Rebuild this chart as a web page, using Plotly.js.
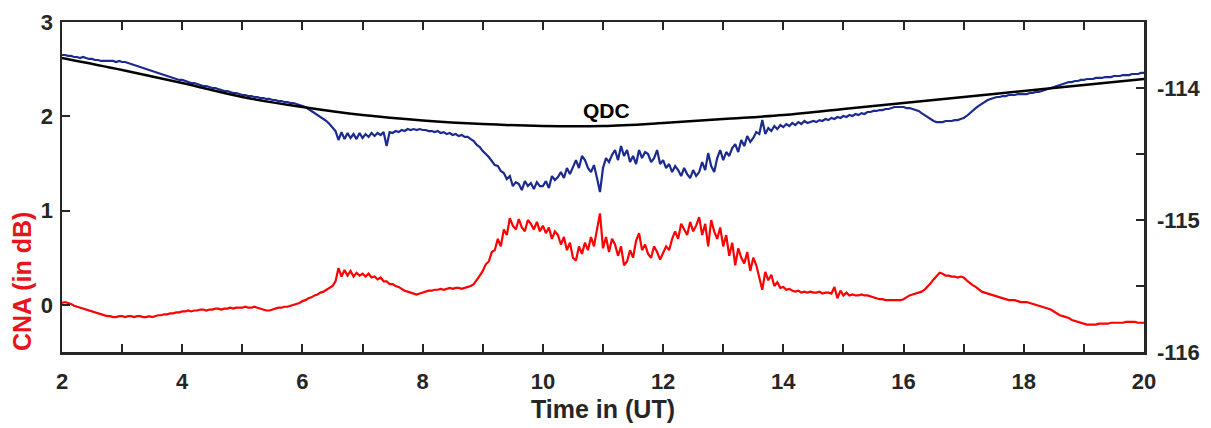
<!DOCTYPE html>
<html>
<head>
<meta charset="utf-8">
<script src="https://cdn.plot.ly/plotly-3.0.1.min.js"></script>
<style>html,body{margin:0;padding:0;background:#fff;}#chart{width:1211px;height:428px;}</style>
</head>
<body>
<div id="chart"></div>
<script>
// Sampling grid: 2.00 UT to 20.00 UT every 0.05 h (361 samples)
const tStart = 2, tStep = 0.05, nSamples = 361;
const timeUT = Array.from({length: nSamples}, (_, i) => +(tStart + i * tStep).toFixed(2));

// CNA (dB), left axis, one row per hour (20 samples each) + final sample at 20.00
const cnaDB = [
  0.02,0.03,0.02,0.01,-0.01,-0.02,-0.03,-0.04,-0.05,-0.06,-0.07,-0.08,-0.09,-0.10,-0.11,-0.12,-0.12,-0.13,-0.13,-0.12,
  -0.12,-0.13,-0.12,-0.12,-0.13,-0.12,-0.12,-0.13,-0.13,-0.12,-0.13,-0.12,-0.11,-0.11,-0.10,-0.10,-0.09,-0.09,-0.08,-0.08,
  -0.07,-0.07,-0.06,-0.07,-0.06,-0.06,-0.05,-0.05,-0.06,-0.05,-0.05,-0.04,-0.04,-0.05,-0.04,-0.04,-0.03,-0.04,-0.03,-0.03,
  -0.03,-0.02,-0.03,-0.03,-0.02,-0.03,-0.04,-0.05,-0.06,-0.06,-0.05,-0.04,-0.03,-0.03,-0.02,-0.02,-0.01,0.00,0.01,0.02,
  0.04,0.05,0.07,0.08,0.10,0.11,0.13,0.14,0.16,0.18,0.20,0.25,0.39,0.30,0.37,0.31,0.36,0.30,0.34,0.31,
  0.33,0.30,0.33,0.29,0.30,0.27,0.29,0.25,0.25,0.22,0.22,0.20,0.19,0.17,0.15,0.14,0.13,0.12,0.11,0.12,
  0.13,0.14,0.15,0.15,0.16,0.16,0.17,0.16,0.17,0.18,0.17,0.18,0.18,0.17,0.18,0.19,0.20,0.22,0.26,0.31,
  0.36,0.43,0.46,0.56,0.58,0.70,0.62,0.80,0.74,0.92,0.84,0.80,0.91,0.82,0.78,0.90,0.86,0.80,0.88,0.78,
  0.84,0.76,0.82,0.70,0.78,0.74,0.64,0.72,0.58,0.66,0.50,0.47,0.62,0.54,0.66,0.58,0.72,0.62,0.80,0.97,
  0.60,0.72,0.56,0.70,0.64,0.52,0.62,0.42,0.46,0.58,0.50,0.68,0.76,0.58,0.64,0.54,0.50,0.62,0.56,0.48,
  0.55,0.62,0.58,0.70,0.78,0.70,0.86,0.80,0.74,0.88,0.78,0.84,0.93,0.74,0.86,0.62,0.90,0.78,0.70,0.82,
  0.62,0.74,0.52,0.66,0.42,0.60,0.50,0.44,0.56,0.36,0.50,0.42,0.30,0.16,0.35,0.26,0.32,0.20,0.24,0.18,
  0.19,0.16,0.17,0.15,0.14,0.15,0.13,0.14,0.13,0.14,0.13,0.13,0.14,0.12,0.13,0.13,0.12,0.19,0.07,0.15,
  0.10,0.13,0.10,0.11,0.10,0.10,0.11,0.10,0.10,0.09,0.08,0.07,0.06,0.06,0.05,0.05,0.05,0.05,0.05,0.05,
  0.06,0.08,0.10,0.11,0.12,0.13,0.14,0.16,0.19,0.23,0.27,0.30,0.34,0.33,0.31,0.31,0.30,0.30,0.29,0.30,
  0.29,0.26,0.23,0.21,0.19,0.16,0.14,0.13,0.12,0.11,0.10,0.09,0.08,0.07,0.06,0.05,0.05,0.05,0.04,0.03,
  0.03,0.03,0.02,0.01,0.00,-0.01,-0.02,-0.03,-0.04,-0.05,-0.07,-0.09,-0.11,-0.12,-0.13,-0.14,-0.16,-0.17,-0.18,-0.19,
  -0.20,-0.21,-0.21,-0.21,-0.21,-0.20,-0.20,-0.20,-0.20,-0.19,-0.19,-0.19,-0.19,-0.19,-0.18,-0.18,-0.18,-0.18,-0.19,-0.19,
  -0.19
];

// Riometer signal (right axis), one row per hour + final sample at 20.00
const signalPower = [
  -113.750,-113.750,-113.757,-113.757,-113.765,-113.765,-113.773,-113.765,-113.773,-113.780,-113.780,-113.788,-113.788,-113.795,-113.795,-113.795,-113.795,-113.795,-113.803,-113.795,
  -113.803,-113.803,-113.811,-113.818,-113.826,-113.833,-113.841,-113.848,-113.856,-113.864,-113.871,-113.879,-113.886,-113.894,-113.902,-113.909,-113.917,-113.924,-113.932,-113.939,
  -113.939,-113.947,-113.955,-113.962,-113.962,-113.970,-113.977,-113.985,-113.985,-113.992,-114.000,-114.000,-114.008,-114.015,-114.023,-114.023,-114.030,-114.038,-114.038,-114.046,
  -114.053,-114.053,-114.061,-114.061,-114.068,-114.068,-114.076,-114.076,-114.083,-114.083,-114.091,-114.091,-114.099,-114.099,-114.106,-114.106,-114.114,-114.114,-114.121,-114.129,
  -114.136,-114.144,-114.159,-114.174,-114.190,-114.205,-114.220,-114.235,-114.250,-114.273,-114.303,-114.326,-114.394,-114.334,-114.387,-114.341,-114.379,-114.349,-114.387,-114.341,
  -114.379,-114.349,-114.371,-114.341,-114.364,-114.341,-114.356,-114.334,-114.440,-114.334,-114.341,-114.326,-114.334,-114.318,-114.326,-114.311,-114.318,-114.311,-114.318,-114.311,
  -114.318,-114.318,-114.326,-114.326,-114.334,-114.326,-114.341,-114.334,-114.349,-114.341,-114.356,-114.349,-114.364,-114.356,-114.371,-114.371,-114.387,-114.402,-114.432,-114.447,
  -114.478,-114.500,-114.523,-114.553,-114.584,-114.591,-114.629,-114.644,-114.690,-114.667,-114.743,-114.713,-114.728,-114.773,-114.705,-114.743,-114.720,-114.766,-114.713,-114.743,
  -114.743,-114.705,-114.758,-114.667,-114.697,-114.675,-114.637,-114.682,-114.606,-114.652,-114.591,-114.546,-114.606,-114.515,-114.546,-114.606,-114.637,-114.584,-114.682,-114.788,
  -114.606,-114.531,-114.561,-114.508,-114.470,-114.546,-114.440,-114.515,-114.470,-114.561,-114.515,-114.576,-114.470,-114.531,-114.485,-114.500,-114.561,-114.531,-114.470,-114.576,
  -114.546,-114.606,-114.576,-114.637,-114.591,-114.622,-114.667,-114.606,-114.652,-114.682,-114.622,-114.667,-114.637,-114.561,-114.622,-114.493,-114.591,-114.637,-114.531,-114.470,
  -114.546,-114.485,-114.515,-114.455,-114.425,-114.485,-114.394,-114.440,-114.364,-114.409,-114.379,-114.334,-114.349,-114.243,-114.349,-114.303,-114.326,-114.288,-114.311,-114.281,
  -114.296,-114.273,-114.288,-114.265,-114.281,-114.258,-114.273,-114.250,-114.265,-114.258,-114.250,-114.258,-114.243,-114.250,-114.235,-114.243,-114.227,-114.235,-114.220,-114.227,
  -114.212,-114.220,-114.205,-114.212,-114.197,-114.205,-114.190,-114.197,-114.182,-114.182,-114.174,-114.174,-114.167,-114.167,-114.159,-114.159,-114.152,-114.144,-114.144,-114.144,
  -114.144,-114.152,-114.152,-114.159,-114.167,-114.174,-114.190,-114.205,-114.220,-114.235,-114.250,-114.258,-114.258,-114.258,-114.250,-114.250,-114.250,-114.243,-114.243,-114.235,
  -114.227,-114.212,-114.190,-114.167,-114.152,-114.136,-114.121,-114.106,-114.091,-114.083,-114.076,-114.068,-114.068,-114.061,-114.061,-114.053,-114.053,-114.053,-114.046,-114.046,
  -114.046,-114.046,-114.038,-114.038,-114.030,-114.030,-114.023,-114.015,-114.008,-114.000,-113.992,-113.985,-113.977,-113.970,-113.962,-113.955,-113.955,-113.947,-113.947,-113.939,
  -113.939,-113.932,-113.932,-113.932,-113.924,-113.924,-113.924,-113.917,-113.917,-113.917,-113.909,-113.909,-113.909,-113.902,-113.902,-113.902,-113.894,-113.894,-113.894,-113.886,
  -113.886
];

// Quiet Day Curve (right axis), hourly
const qdcTime = [2,3,4,5,6,7,8,9,10,11,12,13,14,15,16,17,18,19,20];
const qdcPower = [-113.773,-113.864,-113.962,-114.068,-114.144,-114.205,-114.246,-114.273,-114.288,-114.288,
                  -114.265,-114.235,-114.205,-114.159,-114.114,-114.068,-114.023,-113.977,-113.932];

// Tick labels
const xTickVals = [2,4,6,8,10,12,14,16,18,20];
const xTickText = ['2','4','6','8','10','12','14','16','18','20'];
const yTickVals = [0,1,2,3];
const yTickText = ['0','1','2','3'];
const y2TickVals = [-116,-115,-114];
const y2TickText = ['-116','-115','-114'];

const axisColor = '#262626';
const fontFam = 'Liberation Sans, Arial, sans-serif';
const tickFont = {family: fontFam, size: 22, color: axisColor, weight: 'bold'};

const traces = [
  {x: timeUT, y: cnaDB, type: 'scatter', mode: 'lines', yaxis: 'y',
   line: {color: '#ff0000', width: 2.2}, hoverinfo: 'skip'},
  {x: timeUT, y: signalPower, type: 'scatter', mode: 'lines', yaxis: 'y2',
   line: {color: '#1b2a8e', width: 2.2}, hoverinfo: 'skip'},
  {x: qdcTime, y: qdcPower, type: 'scatter', mode: 'lines', yaxis: 'y2',
   line: {color: '#000000', width: 2.5, shape: 'spline', smoothing: 1}, hoverinfo: 'skip'}
];

const layout = {
  width: 1211, height: 428,
  margin: {l: 62, r: 67, t: 22, b: 76},
  paper_bgcolor: '#ffffff', plot_bgcolor: '#ffffff',
  showlegend: false,
  font: {family: fontFam, color: axisColor},
  xaxis: {
    range: [2, 20], tickvals: xTickVals, ticktext: xTickText,
    ticks: 'inside', ticklen: 8, tickwidth: 2, tickcolor: axisColor,
    minor: {dtick: 1, tick0: 2, ticks: 'inside', ticklen: 8, tickwidth: 2, tickcolor: axisColor},
    showline: true, linewidth: 2.5, linecolor: axisColor, mirror: 'ticks',
    showgrid: false, zeroline: false, tickfont: tickFont, ticklabelstandoff: 8,
    title: {text: 'Time in (UT)', font: {family: fontFam, size: 25, color: axisColor, weight: 'bold'}, standoff: 8}
  },
  yaxis: {
    range: [-0.5, 3], tickvals: yTickVals, ticktext: yTickText,
    ticks: 'inside', ticklen: 8, tickwidth: 2, tickcolor: axisColor,
    showline: true, linewidth: 2.5, linecolor: axisColor, mirror: false,
    showgrid: false, zeroline: false, tickfont: tickFont, ticklabelstandoff: 2
  },
  yaxis2: {
    overlaying: 'y', side: 'right', range: [-116, -113.5],
    tickvals: y2TickVals, ticktext: y2TickText,
    ticks: 'inside', ticklen: 8, tickwidth: 2, tickcolor: axisColor,
    minor: {dtick: 0.5, tick0: -116, ticks: 'inside', ticklen: 8, tickwidth: 2, tickcolor: axisColor},
    showline: true, linewidth: 2.5, linecolor: axisColor,
    showgrid: false, zeroline: false, tickfont: tickFont, ticklabelstandoff: 6
  },
  annotations: [
    {text: 'QDC', xref: 'x', yref: 'y', x: 11.05, y: 2.06, showarrow: false,
     font: {family: fontFam, size: 21, color: '#000000', weight: 'bold'}},
    {text: 'CNA (in dB)', xref: 'paper', yref: 'paper', x: -0.037, y: 0.215, textangle: -90,
     showarrow: false, xanchor: 'center', yanchor: 'middle',
     font: {family: fontFam, size: 25, color: '#e8141c', weight: 'bold'}}
  ]
};

Plotly.newPlot('chart', traces, layout, {displayModeBar: false, staticPlot: true});
</script>
</body>
</html>
